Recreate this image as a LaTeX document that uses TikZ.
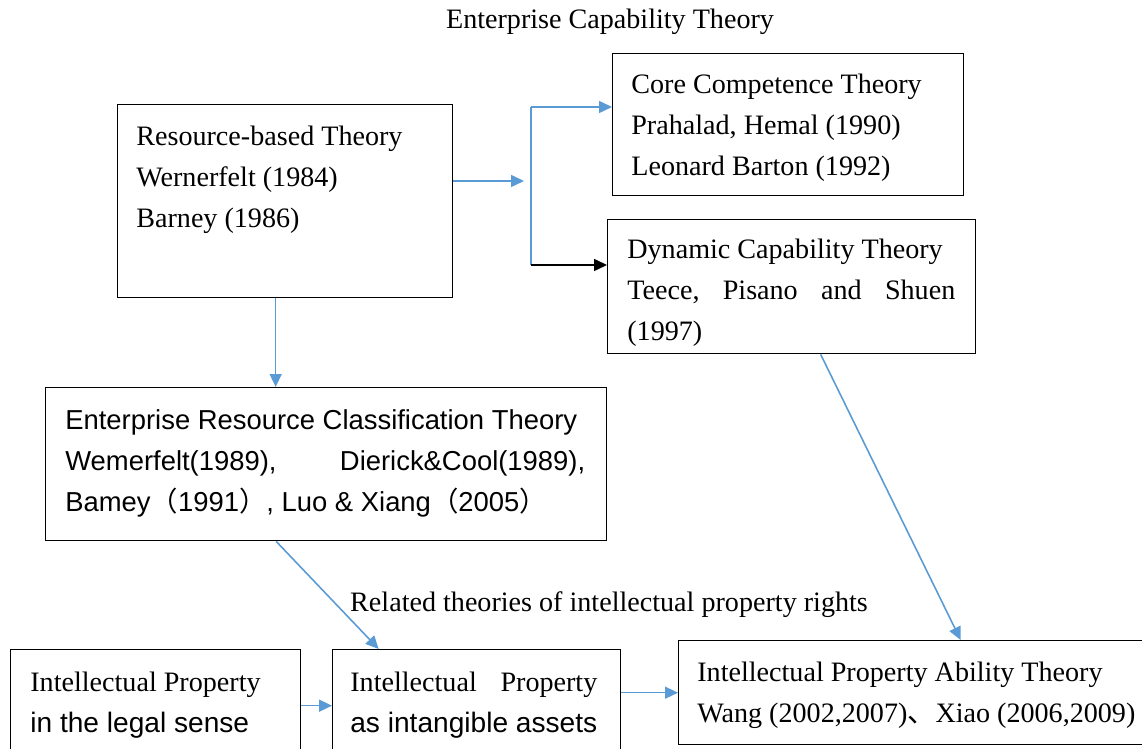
\documentclass[tikz,border=0pt]{standalone}
\usepackage{fontspec}
\setmainfont{Liberation Serif}
\newfontfamily\arialfont{Liberation Sans}
\newfontfamily\cjk{Noto Sans CJK SC}
\usetikzlibrary{arrows.meta}
\definecolor{linkblue}{RGB}{91,155,213}

\begin{document}
\begin{tikzpicture}[x=0.02cm, y=-0.02cm,
  box/.style={draw, line width=0.8pt, anchor=north west, inner sep=0pt},
  txt/.style={anchor=north west, inner sep=0pt, align=left, font=\fontsize{16}{23.3}\selectfont},
  link/.style={draw=linkblue, line width=0.9pt, -{Triangle[length=0.26cm,width=0.24cm]}}]
\useasboundingbox (0,0) rectangle (1142,749);
\clip (0,0) rectangle (1142,749);

\node[txt, anchor=center] (title) at (610,22) {Enterprise Capability Theory};

% boxes
\node[box, minimum width=6.7cm, minimum height=3.86cm] (rbt) at (117,104) {};
\node[box, minimum width=7.02cm, minimum height=2.84cm] (core) at (612,53) {};
\node[box, minimum width=7.36cm, minimum height=2.68cm] (dyn) at (607,219) {};
\node[box, minimum width=11.22cm, minimum height=3.06cm] (erc) at (45,387) {};
\node[box, minimum width=5.8cm, minimum height=2.24cm] (ipl) at (10,649) {};
\node[box, minimum width=5.76cm, minimum height=2.24cm] (ipi) at (332,649) {};
\node[box, minimum width=9.4cm, minimum height=2.08cm] (ipa) at (678,640) {};

% texts
\node[txt] (rbttext) at (136,126) {Resource-based Theory\\Wernerfelt (1984)\\Barney (1986)};
\node[txt] (coretext) at (631,74) {Core Competence Theory\\Prahalad, Hemal (1990)\\Leonard Barton (1992)};
\node[txt] (dyntext) at (627,239) {Dynamic Capability Theory\\\makebox[6.56cm]{Teece,\hfill Pisano\hfill and\hfill Shuen}\\(1997)};
\node[txt, font=\fontsize{15.6}{23.3}\selectfont\arialfont] (erctext) at (65,409)
  {Enterprise Resource Classification Theory\\\makebox[10.4cm]{Wemerfelt(1989),\hfill Dierick\&Cool(1989),}\\Bamey{\cjk （}1991{\cjk ）}, Luo \& Xiang{\cjk （}2005{\cjk ）}};
\node[txt, anchor=center] (iprlabel) at (609,605) {Related theories of intellectual property rights};
\node[txt] (ipltext) at (30,672) {Intellectual Property\\{\arialfont in the legal sense}};
\node[txt] (ipitext) at (350,672) {\makebox[4.94cm]{Intellectual\hfill Property}\\{\arialfont as intangible assets}};
\node[txt] (ipatext) at (697,662) {Intellectual Property Ability Theory\\Wang (2002,2007){\cjk 、}Xiao (2006,2009)};

% connectors
\coordinate (fork) at (524,181);
\coordinate (forktop) at (531,107);
\coordinate (forkbot) at (531,265);
\draw[link] (rbt.east |- fork) -- (fork);
\draw[linkblue, line width=0.9pt] (forktop) -- (forkbot);
\draw[link] (forktop) -- (forktop -| core.west);
\draw[link, draw=black] (forkbot) -- (forkbot -| dyn.west);
\draw[link] ([xshift=-0.19cm]rbt.south) -- ([xshift=-0.19cm]rbt.south |- erc.north);
\draw[link] ([xshift=-1cm]erc.south) -- ([xshift=-1.96cm]ipi.north);
\draw[link] ([xshift=0.58cm]dyn.south) -- ([xshift=0.94cm]ipa.north);
\draw[link] (ipl.east) -- (ipl.east -| ipi.west);
\draw[link] (ipi.east |- ipa.west) -- (ipa.west);
\end{tikzpicture}
\end{document}
